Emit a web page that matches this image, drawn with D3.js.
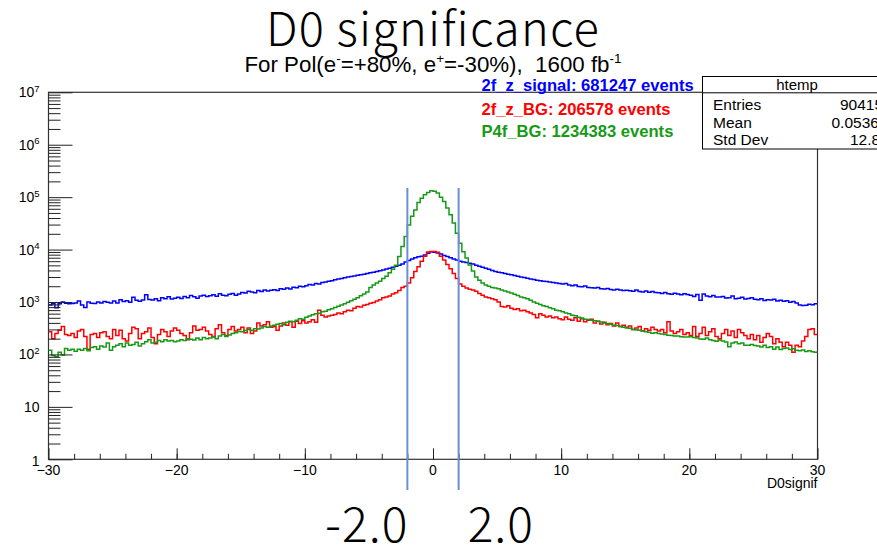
<!DOCTYPE html>
<html>
<head>
<meta charset="utf-8">
<script src="https://cdn.jsdelivr.net/npm/d3@7"></script>
<style>
  html, body { margin: 0; padding: 0; background: #fff; }
  svg { display: block; }
  text { font-family: "Liberation Sans", Arial, Helvetica, sans-serif; fill: #000; }
  .big { font-family: "Noto Sans CJK JP", "Noto Sans", sans-serif; font-weight: 300; }
</style>
</head>
<body>
<svg id="chart" width="877" height="547"></svg>
<script>
// --- data ---
const xRange = [-30, 30];
const binWidth = 0.25;
const yRange = [1, 1e7];

const xMajorTicks = [-30, -20, -10, 0, 10, 20, 30];
const yDecades = [1, 10, 100, 1e3, 1e4, 1e5, 1e6, 1e7];
const cutValues = [-2.0, 2.0];
const cutLabels = ['-2.0', '2.0'];

const titleText = 'D0 significance';
const xAxisTitle = 'D0signif';

const seriesNames = ['2f_z_signal', '2f_z_BG', 'P4f_BG'];
const seriesEvents = [681247, 206578, 1234383];
const seriesColors = ['#0000ff', '#ff0000', '#169a16'];

const statsTitle = 'htemp';
const statsLabels = ['Entries', 'Mean', 'Std Dev'];
const statsValues = ['90415', '0.05363', '12.86'];

// 240 bins of 0.25 from -30 to 30
const signal = [
  880, 930, 780, 930, 1000, 950, 930, 940, 960, 1050,
  880, 790, 1000, 950, 940, 1000, 960, 1020, 990, 960,
  1050, 960, 1100, 1020, 1060, 990, 1230, 1080, 1030, 1090,
  1370, 1120, 1090, 1160, 1060, 1200, 1150, 1260, 1140, 1180,
  1230, 1170, 1280, 1200, 1330, 1260, 1180, 1300, 1350, 1270,
  1320, 1380, 1290, 1430, 1350, 1310, 1400, 1450, 1340, 1420,
  1520, 1480, 1600, 1550, 1500, 1650, 1580, 1700, 1620, 1680,
  1720, 1650, 1800, 1760, 1850, 1780, 1920, 1880, 2000, 1950,
  2050, 2150, 2100, 2250, 2200, 2350, 2400, 2500, 2550, 2650,
  2750, 2800, 2900, 3000, 3050, 3150, 3250, 3300, 3400, 3500,
  3600, 3700, 3800, 3950, 4100, 4250, 4400, 4600, 4800, 5000,
  5300, 5800, 6200, 6600, 7000, 7300, 7500, 7900, 8500, 9100,
  8900, 8600, 8200, 7700, 7400, 7000, 6600, 6300, 6000, 5800,
  5700, 5500, 5300, 5000, 4800, 4600, 4400, 4200, 4000, 3800,
  3700, 3600, 3500, 3400, 3300, 3200, 3100, 3000, 2950, 2850,
  2750, 2700, 2600, 2550, 2500, 2450, 2400, 2350, 2300, 2250,
  2200, 2250, 2100, 2050, 2120, 1980, 1950, 2020, 1900, 1880,
  1850, 1900, 1800, 1780, 1820, 1740, 1700, 1760, 1690, 1650,
  1680, 1640, 1600, 1700, 1580, 1560, 1620, 1540, 1580, 1520,
  1500, 1460, 1520, 1440, 1400, 1470, 1420, 1380, 1430, 1390,
  1350, 1280, 1390, 1080, 1420, 1300, 1260, 1330, 1250, 1240,
  1270, 1190, 1210, 1300, 1160, 1180, 1230, 1140, 1170, 1210,
  1130, 1100, 1160, 1070, 1110, 1090, 1130, 1050, 1080, 1030,
  1060, 990, 1020, 960, 880, 860, 870, 910, 890, 930
];

const zBG = [
  270, 200, 250, 290, 340, 240, 230, 250, 210, 280,
  300, 220, 125, 240, 250, 210, 260, 270, 220, 200,
  300, 230, 290, 200, 180, 250, 330, 310, 200, 250,
  270, 320, 210, 160, 240, 300, 270, 220, 280, 320,
  290, 250, 230, 190, 260, 350, 290, 300, 330, 280,
  240, 220, 310, 370, 260, 230, 300, 340, 280, 300,
  330, 260, 320, 250, 280, 400, 350, 370, 420, 330,
  340, 290, 350, 400, 360, 420, 330, 430, 390, 440,
  400, 420, 460, 410, 700, 560, 520, 540, 560, 580,
  620, 600, 650, 700, 680, 760, 820, 800, 870, 900,
  950, 980, 1050, 1100, 1200, 1250, 1300, 1420, 1500, 1650,
  1900, 2000, 2300, 2900, 3800, 4700, 6000, 7500, 9000, 9200,
  9200, 8900, 7500, 6300, 5200, 4300, 3500, 2800, 2200, 2000,
  1850, 1750, 1700, 1600, 1450, 1350, 1250, 1200, 1150, 1100,
  1000, 820, 800, 850, 760, 720, 740, 680, 700, 650,
  620, 580, 500, 600, 560, 520, 540, 500, 520, 480,
  460, 520, 470, 450, 500, 430, 480, 420, 450, 470,
  400, 430, 380, 410, 370, 390, 350, 400, 340, 360,
  330, 350, 300, 320, 340, 280, 310, 290, 330, 300,
  280, 300, 260, 420, 280, 250, 270, 300, 240, 260,
  230, 340, 220, 250, 330, 230, 270, 310, 220, 200,
  250, 300, 230, 280, 210, 300, 260, 230, 200, 240,
  190, 230, 170, 210, 250, 220, 160, 200, 170, 140,
  170, 150, 110, 150, 140, 180, 220, 300, 310, 240
];

const p4fBG = [
  120, 95, 90, 110, 98, 130, 120, 125, 115, 125,
  120, 130, 118, 135, 140, 125, 145, 138, 165, 120,
  140, 150, 160, 140, 165, 150, 155, 170, 145, 160,
  175, 190, 165, 170, 185, 175, 190, 180, 185, 175,
  180, 190, 185, 200, 195, 188, 205, 190, 210, 200,
  205, 215, 200, 225, 240, 220, 235, 250, 260, 275,
  270, 285, 300, 290, 310, 305, 320, 340, 330, 350,
  360, 375, 390, 370, 410, 430, 420, 450, 480, 470,
  510, 540, 570, 600, 610, 650, 670, 710, 740, 790,
  830, 880, 930, 990, 1060, 1130, 1210, 1310, 1420, 1560,
  1900, 2100, 2300, 2500, 2800, 3100, 3600, 4200, 5000, 7400,
  11500, 17800, 29500, 43000, 57000, 79000, 95000, 111000, 123000, 132000,
  130000, 120000, 100000, 83000, 62000, 46000, 32000, 20500, 13200, 9100,
  6900, 5100, 3900, 3000, 2600, 2300, 2100, 2000, 1900, 1850,
  1800, 1700, 1620, 1550, 1480, 1400, 1330, 1250, 1200, 1150,
  1080, 1000, 950, 900, 850, 820, 780, 740, 700, 680,
  650, 620, 600, 560, 545, 510, 495, 470, 465, 450,
  440, 430, 415, 400, 390, 375, 360, 355, 340, 330,
  320, 315, 300, 295, 290, 280, 270, 265, 255, 258,
  250, 245, 240, 232, 230, 225, 225, 218, 215, 215,
  218, 210, 205, 196, 195, 205, 190, 185, 178, 188,
  180, 172, 140, 165, 172, 160, 165, 150, 150, 155,
  148, 145, 138, 150, 135, 140, 125, 138, 124, 130,
  132, 124, 128, 120, 118, 122, 114, 118, 112, 110
];

// --- layout ---
const frame = { left: 48.5, right: 817.5, top: 92.3, bottom: 459.3 };
const svg = d3.select('#chart');

const x = d3.scaleLinear().domain(xRange).range([frame.left, frame.right]);
const y = d3.scaleLog().domain(yRange).range([frame.bottom, frame.top]);

// Заголовок
svg.append('text')
  .attr('class', 'big')
  .attr('x', 433).attr('y', 46)
  .attr('text-anchor', 'middle')
  .attr('font-size', 47)
  .attr('letter-spacing', 1.2)
  .text(titleText);

// Подзаголовок с индексами
const sub = svg.append('text')
  .attr('x', 433).attr('y', 71.5)
  .attr('text-anchor', 'middle')
  .attr('font-size', 22.3);
const subParts = [
  { t: 'For Pol(e' }, { t: '-', sup: true }, { t: '=+80%, e' }, { t: '+', sup: true },
  { t: '=-30%),\u00a0 1600 fb' }, { t: '-1', sup: true }
];
subParts.forEach(p => {
  const ts = sub.append('tspan').text(p.t);
  if (p.sup) ts.attr('font-size', 13.5).attr('dy', -9);
  else if (ts.node().previousSibling) ts.attr('dy', 9);
});

// Рамка
svg.append('rect')
  .attr('x', frame.left).attr('y', frame.top)
  .attr('width', frame.right - frame.left)
  .attr('height', frame.bottom - frame.top)
  .attr('fill', 'none')
  .attr('stroke', '#333')
  .attr('stroke-width', 1.2);

// Гистограммы
const clip = svg.append('defs').append('clipPath').attr('id', 'plotclip');
clip.append('rect')
  .attr('x', frame.left).attr('y', frame.top)
  .attr('width', frame.right - frame.left)
  .attr('height', frame.bottom - frame.top);

const nBins = signal.length;
const edges = d3.range(nBins + 1).map(i => xRange[0] + i * binWidth);
const line = d3.line()
  .x(d => x(d[0]))
  .y(d => y(d[1]))
  .curve(d3.curveStepAfter);

function stepPoints(values) {
  const pts = values.map((v, i) => [edges[i], v]);
  pts.push([edges[values.length], values[values.length - 1]]);
  return pts;
}

const hg = svg.append('g').attr('clip-path', 'url(#plotclip)');
[signal, zBG, p4fBG].forEach((vals, k) => {
  hg.append('path')
    .attr('d', line(stepPoints(vals)))
    .attr('fill', 'none')
    .attr('stroke', seriesColors[k])
    .attr('stroke-width', 1.5);
});

// Ось X
const xAxisMajor = d3.axisBottom(x).tickValues(xMajorTicks).tickSize(-11).tickSizeOuter(0).tickFormat('');
const xAxisMinor = d3.axisBottom(x).tickValues(d3.range(-28, 30, 2)).tickSize(-5.5).tickSizeOuter(0).tickFormat('');
[xAxisMajor, xAxisMinor].forEach(ax => {
  const g = svg.append('g').attr('transform', `translate(0,${frame.bottom})`).call(ax);
  g.select('.domain').remove();
  g.selectAll('line').attr('stroke', '#222').attr('stroke-width', 1);
});
svg.append('g').selectAll('text')
  .data(xMajorTicks)
  .enter().append('text')
  .attr('x', d => x(d))
  .attr('y', 475)
  .attr('text-anchor', 'middle')
  .attr('font-size', 14)
  .text(d => d < 0 ? '\u2212' + Math.abs(d) : d);

svg.append('text')
  .attr('x', frame.right).attr('y', 488)
  .attr('text-anchor', 'end')
  .attr('font-size', 14)
  .text(xAxisTitle);

// Ось Y (логарифмическая)
const yMinor = [];
yDecades.slice(0, -1).forEach(d => { for (let k = 2; k <= 9; k++) yMinor.push(k * d); });
const yAxisMajor = d3.axisLeft(y).tickValues(yDecades).tickSize(-24).tickSizeOuter(0).tickFormat('');
const yAxisMinor = d3.axisLeft(y).tickValues(yMinor).tickSize(-12).tickSizeOuter(0).tickFormat('');
[yAxisMajor, yAxisMinor].forEach(ax => {
  const g = svg.append('g').attr('transform', `translate(${frame.left},0)`).call(ax);
  g.select('.domain').remove();
  g.selectAll('line').attr('stroke', '#222').attr('stroke-width', 1);
});

const yLab = svg.append('g').selectAll('text')
  .data(yDecades)
  .enter().append('text')
  .attr('x', 39.5)
  .attr('y', d => y(d) + (d === 1 ? 7 : 5))
  .attr('text-anchor', 'end')
  .attr('font-size', 14);
yLab.each(function (d) {
  const e = Math.round(Math.log10(d));
  const t = d3.select(this);
  if (e === 0) { t.text('1'); return; }
  t.append('tspan').text('10');
  if (e > 1) t.append('tspan').attr('font-size', 9.5).attr('dy', -5.5).text(e);
});

// Линии отбора
svg.append('g').selectAll('line')
  .data(cutValues)
  .enter().append('line')
  .attr('x1', d => x(d)).attr('x2', d => x(d))
  .attr('y1', 188).attr('y2', 490)
  .attr('stroke', '#6b8fd6')
  .attr('stroke-width', 2);

svg.append('text')
  .attr('class', 'big')
  .attr('x', x(cutValues[0]) + 1).attr('y', 542)
  .attr('text-anchor', 'end')
  .attr('font-size', 48)
  .attr('letter-spacing', 1)
  .text(cutLabels[0]);
svg.append('text')
  .attr('class', 'big')
  .attr('x', x(cutValues[1]) + 9).attr('y', 542)
  .attr('text-anchor', 'start')
  .attr('font-size', 48)
  .attr('letter-spacing', 1)
  .text(cutLabels[1]);

// Легенда
const legendY = [91, 115, 137];
seriesNames.forEach((name, i) => {
  svg.append('text')
    .attr('x', 481.5).attr('y', legendY[i])
    .attr('font-size', 16.6)
    .attr('font-weight', 'bold')
    .style('fill', seriesColors[i])
    .text(`${name}: ${seriesEvents[i]} events`);
});

// Статистика
const stats = svg.append('g');
stats.append('rect')
  .attr('x', 702.5).attr('y', 76.5)
  .attr('width', 200).attr('height', 72.5)
  .attr('fill', '#fff')
  .attr('stroke', '#000')
  .attr('stroke-width', 1);
stats.append('line')
  .attr('x1', 702.5).attr('x2', 902.5)
  .attr('y1', 92.8).attr('y2', 92.8)
  .attr('stroke', '#000');
stats.append('text')
  .attr('x', 797).attr('y', 89.5)
  .attr('text-anchor', 'middle')
  .attr('font-size', 15)
  .text(statsTitle);
const statsY = [109.5, 127.5, 145];
const statsValX = [840, 831.5, 850];
statsLabels.forEach((lab, i) => {
  stats.append('text').attr('x', 713).attr('y', statsY[i]).attr('font-size', 15.5).text(lab);
  stats.append('text').attr('x', statsValX[i]).attr('y', statsY[i]).attr('font-size', 15.5).text(statsValues[i]);
});
</script>
</body>
</html>
